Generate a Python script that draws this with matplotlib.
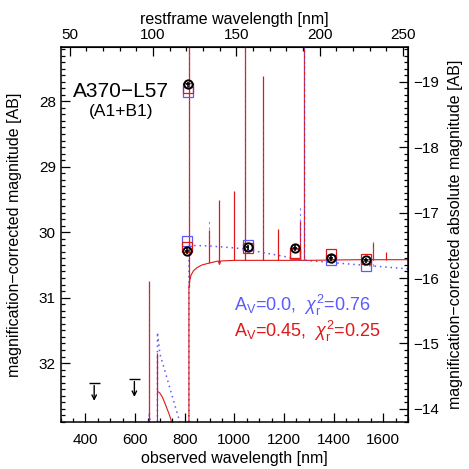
import numpy as np
import matplotlib
matplotlib.use("Agg")
from matplotlib import pyplot as plt
from matplotlib.ticker import MultipleLocator, FuncFormatter

plt.rcParams['font.family'] = ['Liberation Sans', 'DejaVu Sans']
plt.rcParams['mathtext.fontset'] = 'custom'
plt.rcParams['mathtext.rm'] = 'Liberation Sans'
plt.rcParams['mathtext.it'] = 'Liberation Sans:italic'

ZP1 = 6.72          # 1 + z
DIST_MOD = 46.7     # apparent - absolute magnitude
BLUE = "#5a5aff"
RED = "#e01818"

# observed photometry (nm, AB mag)
phot_wl = [815, 810, 1053, 1244, 1388, 1532]
phot_mag = [27.74, 30.28, 30.23, 30.24, 30.39, 30.43]
phot_err = [0.04, 0.05, 0.04, 0.04, 0.05, 0.04]

# upper limits
uplim_wl = [435, 597]
uplim_mag = [32.30, 32.24]

# model photometry in the same bands
mod_blue_mag = [27.86, 30.14, 30.19, 30.33, 30.43, 30.51]
mod_red_mag = [27.80, 30.23, 30.24, 30.32, 30.33, 30.41]

# model continua (A_V=0.45 red, A_V=0.0 blue)
red_cont_wl = [300, 689.9, 690, 700, 710, 724, 737, 744, 760, 780, 816.9,
               817, 820, 825, 835, 850, 870, 900, 935, 940, 945, 1000, 1100,
               1300, 1500, 1700]
red_cont_mag = [34, 34, 32.43, 32.46, 32.52, 32.65, 32.78, 32.86, 33.1, 34, 34,
                30.84, 30.74, 30.66, 30.59, 30.54, 30.50, 30.47, 30.44, 30.49,
                30.44, 30.43, 30.43, 30.43, 30.42, 30.42]
blue_cont_wl = [300, 650, 657, 665, 689.9, 690, 700, 720, 740, 760, 777, 790,
                816.9, 817, 900, 1000, 1050, 1100, 1200, 1260, 1380, 1540, 1700]
blue_cont_mag = [34, 34, 32.75, 33.05, 34, 31.53, 31.86, 32.12, 32.38, 32.64,
                 32.86, 33.05, 34, 30.20, 30.21, 30.24, 30.26, 30.30, 30.37,
                 30.42, 30.46, 30.51, 30.56]

# emission lines: observed wavelength and peak magnitude
red_line_wl = [657, 690, 817, 898, 940, 997, 1041, 1117, 1174, 1266, 1282, 1560, 1611]
red_line_peak = [30.74, 31.84, 26.0, 29.97, 29.51, 29.37, 26.0, 27.61, 29.95,
                 29.83, 26.0, 30.16, 30.30]
blue_line_wl = [657, 690, 817, 898, 1041, 1117, 1266, 1282, 1560]
blue_line_peak = [30.74, 31.53, 26.0, 29.82, 26.0, 28.3, 29.60, 26.0, 30.12]

fig = plt.figure(figsize=(4.69, 4.69), dpi=100)
ax = fig.add_axes([0.1294, 0.1002, 0.7406, 0.7996])

dots = (0, (1, 2.5))

# blue model continuum
ax.plot(blue_cont_wl, blue_cont_mag, color=BLUE, lw=1.1, ls=dots)

# red model
ax.plot(red_cont_wl, red_cont_mag, color=RED, lw=0.8)
red_base = np.interp(red_line_wl, red_cont_wl, red_cont_mag)
ax.vlines(red_line_wl, red_base, red_line_peak, color=RED, lw=0.9)

# blue model lines, dashed over the red ones
blue_base = np.interp(blue_line_wl, blue_cont_wl, blue_cont_mag)
ax.vlines(blue_line_wl, blue_base, blue_line_peak, color=BLUE, lw=0.8,
          linestyles=[(0, (2, 3))], alpha=0.75)

# model photometry
ax.plot(phot_wl, mod_blue_mag, ls="none", marker="s", ms=6.5, mfc="none",
        mec=BLUE, mew=0.9)
ax.plot(phot_wl, mod_red_mag, ls="none", marker="s", ms=6.5, mfc="none",
        mec=RED, mew=0.9)

# measured photometry
ax.errorbar(phot_wl, phot_mag, yerr=phot_err, xerr=8, fmt="o", ms=6, mfc="none",
            mec="black", mew=1.4, ecolor="black", elinewidth=1.2, capsize=0)

# upper limits
for wl, mag in zip(uplim_wl, uplim_mag):
    ax.hlines(mag, wl - 22, wl + 22, color="black", lw=1)
    ax.annotate("", xy=(wl, mag + 0.32), xytext=(wl, mag),
                arrowprops=dict(arrowstyle="->", color="black", lw=1,
                                mutation_scale=8))

ax.set_xlim(300, 1700)
ax.set_ylim(32.9, 27.17)
ax.xaxis.set_major_locator(MultipleLocator(200))
ax.xaxis.set_minor_locator(MultipleLocator(50))
ax.yaxis.set_major_locator(MultipleLocator(1))
ax.yaxis.set_minor_locator(MultipleLocator(0.1))
ax.tick_params(which="both", direction="in", labelsize=11, width=0.9)
ax.tick_params(which="major", length=6.5)
ax.tick_params(which="minor", length=3)
ax.tick_params(axis="x", pad=8)
ax.set_xlabel("observed wavelength [nm]", fontsize=11.5, labelpad=3)
ax.set_ylabel("magnification\u2212corrected magnitude [AB]", fontsize=11.5,
              labelpad=12)
for sp in ax.spines.values():
    sp.set_linewidth(1.1)

top = ax.secondary_xaxis("top", functions=(lambda w: w / ZP1, lambda r: r * ZP1))
top.xaxis.set_major_locator(MultipleLocator(50))
top.xaxis.set_minor_locator(MultipleLocator(10))
top.tick_params(which="both", direction="in", labelsize=11, width=0.9)
top.tick_params(which="major", length=6.5)
top.tick_params(which="minor", length=3)
top.set_xlabel("restframe wavelength [nm]", fontsize=11.5, labelpad=3)

right = ax.secondary_yaxis("right", functions=(lambda m: m - DIST_MOD,
                                               lambda a: a + DIST_MOD))
right.yaxis.set_major_locator(MultipleLocator(1))
right.yaxis.set_minor_locator(MultipleLocator(0.1))
right.yaxis.set_major_formatter(FuncFormatter(lambda v, p: f"\u2212{abs(v):.0f}"))
right.tick_params(which="both", direction="in", labelsize=11, width=0.9)
right.tick_params(which="major", length=6.5)
right.tick_params(which="minor", length=3)
right.set_ylabel("magnification\u2212corrected absolute magnitude [AB]",
                 fontsize=11.5, labelpad=7)

ax.text(0.174, 0.88, "A370\u2212L57", transform=ax.transAxes, ha="center",
        va="center", fontsize=15)
ax.text(0.175, 0.827, "(A1+B1)", transform=ax.transAxes, ha="center",
        va="center", fontsize=12.5)
ax.text(0.499, 0.312, r"A$_\mathrm{V}$=0.0,  $\chi^2_\mathrm{r}$=0.76",
        transform=ax.transAxes, ha="left", va="center", fontsize=13, color=BLUE)
ax.text(0.499, 0.241, r"A$_\mathrm{V}$=0.45,  $\chi^2_\mathrm{r}$=0.25",
        transform=ax.transAxes, ha="left", va="center", fontsize=13, color=RED)

fig.savefig("out.png", dpi=100)
